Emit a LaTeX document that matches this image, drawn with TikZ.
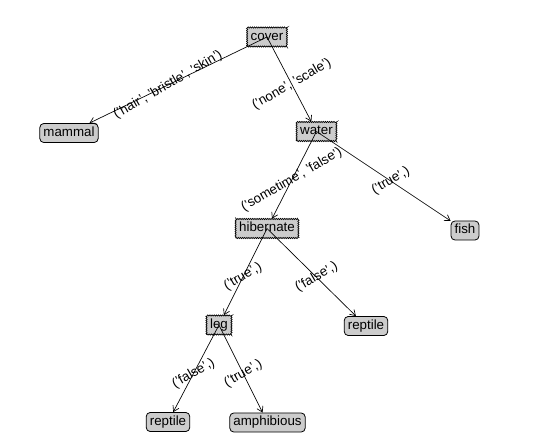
\documentclass[tikz,border=0pt]{standalone}
\usepackage{fontspec}
\setmainfont{Liberation Sans}
\usetikzlibrary{arrows.meta, calc, decorations.pathmorphing}

\begin{document}
\begin{tikzpicture}[
    x=0.75pt, y=-0.75pt,
    decision/.style={rectangle, draw, fill=black!20, line width=0.5pt, inner xsep=2.7pt, inner ysep=2.5pt, text height=7.2pt, text depth=2.1pt, decorate, decoration={zigzag, segment length=1.6pt, amplitude=0.45pt}},
    leaf/.style={rectangle, draw, fill=black!20, rounded corners=3pt, line width=0.6pt, inner xsep=2.7pt, inner ysep=2.5pt, text height=7.2pt, text depth=2.1pt},
    edge/.style={-{Straight Barb[length=4pt, width=5pt]}, line width=0.5pt},
    lbl/.style={rotate=30, inner sep=0pt},
]
\useasboundingbox (0,0) rectangle (538,446);

% Decision nodes
\node[decision] (cover) at (267, 37) {cover};
\node[decision] (water) at (316.5, 131.5) {water};
\node[decision] (hibernate) at (267, 228.5) {hibernate};
\node[decision] (leg) at (219, 325) {leg};

% Leaves
\node[leaf] (mammal) at (69, 133) {mammal};
\node[leaf] (fish) at (465, 230.5) {fish};
\node[leaf] (reptileR) at (366, 326) {reptile};
\node[leaf] (reptileL) at (168, 422) {reptile};
\node[leaf] (amphib) at (267.5, 422.5) {amphibious};

% === Edges ===
\draw[edge] (cover.center) -- (mammal);
\draw[edge] (cover.center) -- (water);
\draw[edge] (water.center) -- (hibernate);
\draw[edge] (water.center) -- (fish);
\draw[edge] (hibernate.center) -- (leg);
\draw[edge] (hibernate.center) -- (reptileR);
\draw[edge] (leg.center) -- (reptileL);
\draw[edge] (leg.center) -- (amphib);

% === Edge labels ===
\node[lbl] (lmammal) at ($(cover)!0.5!(mammal)$) {('hair', 'bristle', 'skin')};
\node[lbl] (lwater) at ($(cover)!0.5!(water)$) {('none', 'scale')};
\node[lbl] (lhibernate) at ($(water)!0.5!(hibernate)$) {('sometime', 'false')};
\node[lbl] (lfish) at ($(water)!0.5!(fish)$) {('true',)};
\node[lbl] (lleg) at ($(hibernate)!0.5!(leg)$) {('true',)};
\node[lbl] (lreptileR) at ($(hibernate)!0.5!(reptileR)$) {('false',)};
\node[lbl] (lreptileL) at ($(leg)!0.5!(reptileL)$) {('false',)};
\node[lbl] (lamphib) at ($(leg)!0.5!(amphib)$) {('true',)};

\end{tikzpicture}
\end{document}
